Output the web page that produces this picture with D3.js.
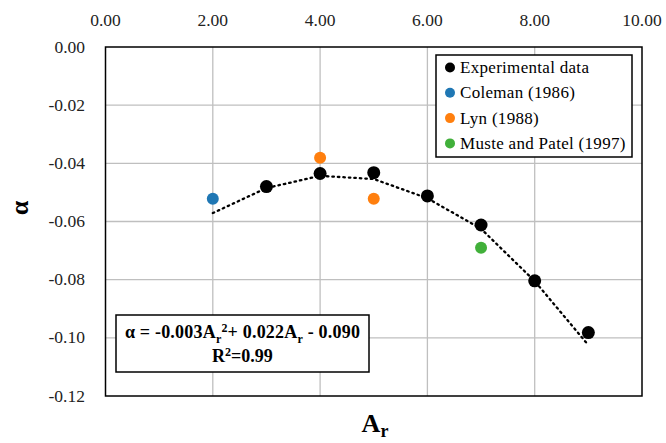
<!DOCTYPE html>
<html lang="en">
<head>
<meta charset="utf-8">
<title>alpha vs Ar</title>
<script src="https://cdnjs.cloudflare.com/ajax/libs/d3/7.8.5/d3.min.js"></script>
<style>
body { margin: 0; background: #fff; }
.grid line { stroke: #bfbfbf; stroke-width: 1.3; }
.trend { fill: none; stroke: #000; stroke-width: 2.3; stroke-dasharray: 1.5 4; stroke-linecap: round; }
</style>
</head>
<body>
<div id="chart"></div>
<script>
const w = 666;
const h = 443;

// data
const xTicks = [0, 2, 4, 6, 8, 10];
const yTicks = [0, -0.02, -0.04, -0.06, -0.08, -0.10, -0.12];

const expX = [3, 4, 5, 6, 7, 8, 9];
const expY = [-0.048, -0.0435, -0.0432, -0.0512, -0.0612, -0.0804, -0.0982];

const colemanX = [2];
const colemanY = [-0.0522];

const lynX = [4, 5];
const lynY = [-0.0381, -0.0522];

const musteX = [7];
const musteY = [-0.069];

// trend line as drawn (dotted)
const trendX = [2, 3, 4, 5, 6, 7, 8, 9];
const trendY = [-0.0571, -0.0485, -0.0443, -0.0454, -0.052, -0.0625, -0.0805, -0.1025];

const series = [
  { name: "Experimental data", color: "#000000", r: 6.5, xs: expX, ys: expY },
  { name: "Coleman (1986)", color: "#1f77b4", r: 6, xs: colemanX, ys: colemanY },
  { name: "Lyn (1988)", color: "#ff7f0e", r: 6, xs: lynX, ys: lynY },
  { name: "Muste and Patel (1997)", color: "#41b03a", r: 6, xs: musteX, ys: musteY }
];

const pLeft = 105.5, pRight = 642, pTop = 47, pBottom = 396;
const serif = "Liberation Serif";

const x = d3.scaleLinear().domain([0, 10]).range([pLeft, pRight]);
const y = d3.scaleLinear().domain([0, -0.12]).range([pTop, pBottom]);

const svg = d3.select("#chart").append("svg")
  .attr("width", w)
  .attr("height", h);

// gridlines
const grid = svg.append("g").attr("class", "grid");
grid.selectAll(".vx").data(xTicks.slice(1, -1)).enter().append("line")
  .attr("x1", d => x(d)).attr("x2", d => x(d))
  .attr("y1", pTop).attr("y2", pBottom);
grid.selectAll(".hy").data(yTicks.slice(1, -1)).enter().append("line")
  .attr("x1", pLeft).attr("x2", pRight)
  .attr("y1", d => y(d)).attr("y2", d => y(d));

// plot border
svg.append("rect")
  .attr("x", pLeft).attr("y", pTop)
  .attr("width", pRight - pLeft).attr("height", pBottom - pTop)
  .attr("fill", "none").attr("stroke", "#000").attr("stroke-width", 1.5);

// x tick labels on top
svg.selectAll(".xt").data(xTicks).enter().append("text")
  .attr("font-family", serif).attr("font-size", 17.5).attr("fill", "#222")
  .attr("x", d => x(d))
  .attr("y", 26)
  .attr("text-anchor", "middle")
  .text(d => d3.format(".2f")(d));

// y tick labels
svg.selectAll(".yt").data(yTicks).enter().append("text")
  .attr("font-family", serif).attr("font-size", 17.5).attr("fill", "#222")
  .attr("x", 85)
  .attr("y", d => y(d) + 5.5)
  .attr("text-anchor", "end")
  .text(d => d3.format(".2f")(d).replace("−", "-"));

// trend line
const trend = trendX.map((v, i) => [v, trendY[i]]);
svg.append("path")
  .datum(trend)
  .attr("class", "trend")
  .attr("d", d3.line().x(d => x(d[0])).y(d => y(d[1])));

// points
series.forEach(s => {
  svg.append("g").selectAll("circle")
    .data(s.xs.map((v, i) => [v, s.ys[i]]))
    .enter().append("circle")
    .attr("cx", d => x(d[0]))
    .attr("cy", d => y(d[1]))
    .attr("r", s.r)
    .attr("fill", s.color);
});

// legend
const lg = svg.append("g");
lg.append("rect")
  .attr("x", 436).attr("y", 55).attr("width", 196).attr("height", 102)
  .attr("fill", "#fff").attr("stroke", "#000").attr("stroke-width", 1.5);
series.forEach((s, i) => {
  const yy = 67.5 + i * 25.3;
  lg.append("circle").attr("cx", 450).attr("cy", yy).attr("r", 5).attr("fill", s.color);
  lg.append("text")
    .attr("font-family", serif).attr("font-size", 17).attr("letter-spacing", 0.3)
    .attr("x", 460).attr("y", yy + 5.5).text(s.name);
});

// equation box
const eq = svg.append("g");
eq.append("rect")
  .attr("x", 116).attr("y", 315).attr("width", 253).attr("height", 57)
  .attr("fill", "#fff").attr("stroke", "#000").attr("stroke-width", 1.5);
const t1 = eq.append("text")
  .attr("font-family", serif).attr("font-size", 18).attr("font-weight", "bold").attr("letter-spacing", 0.2)
  .attr("x", 242.5).attr("y", 338).attr("text-anchor", "middle");
t1.append("tspan").text("α = -0.003A");
t1.append("tspan").attr("font-size", 12).attr("dy", 5).text("r");
t1.append("tspan").attr("font-size", 12).attr("dy", -11).text("2");
t1.append("tspan").attr("dy", 6).text("+ 0.022A");
t1.append("tspan").attr("font-size", 12).attr("dy", 5).text("r");
t1.append("tspan").attr("dy", -5).text(" - 0.090");
const t2 = eq.append("text")
  .attr("font-family", serif).attr("font-size", 18).attr("font-weight", "bold")
  .attr("x", 242.5).attr("y", 362).attr("text-anchor", "middle");
t2.append("tspan").text("R");
t2.append("tspan").attr("font-size", 12).attr("dy", -6).text("2");
t2.append("tspan").attr("dy", 6).text("=0.99");

// axis titles
const xt = svg.append("text").attr("x", 375).attr("y", 432)
  .attr("font-family", serif)
  .attr("text-anchor", "middle").attr("font-size", 26).attr("font-weight", "bold");
xt.append("tspan").text("A");
xt.append("tspan").attr("font-size", 18).attr("dy", 5).text("r");

svg.append("text")
  .attr("transform", "translate(28,208) rotate(-90)")
  .attr("font-family", serif)
  .attr("text-anchor", "middle")
  .attr("font-size", 26).attr("font-weight", "bold")
  .text("α");
</script>
</body>
</html>
